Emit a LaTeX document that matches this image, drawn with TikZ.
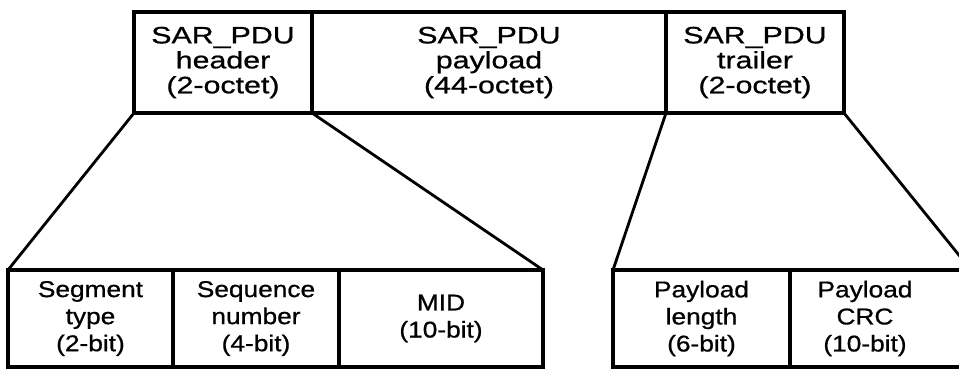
\documentclass[tikz,border=0pt]{standalone}
\usepackage{fontspec}
\newfontfamily\fieldfont{Liberation Sans}[FakeStretch=1.15, FakeBold=0.8]
\newfontfamily\pdufont{Liberation Sans}[FakeStretch=1.28, FakeBold=0.8]
\usetikzlibrary{positioning}

\begin{document}
\begin{tikzpicture}[x=0.2mm, y=-0.2mm, inner sep=0pt, outer sep=0pt, line width=2.2pt,
    field/.style={rectangle, draw, align=center},
    topfield/.style={field, minimum height=2.02cm, font=\pdufont\fontsize{13.5}{14.2}\selectfont},
    subfield/.style={field, minimum height=1.94cm, font=\fieldfont\fontsize{13}{15.4}\selectfont},
    fan/.style={line width=1.6pt}]
        \useasboundingbox (0,0) rectangle (959,368);
        %SAR_PDU
            \draw (223,62.5) node(hdr) [topfield, minimum width=3.56cm] {SAR\_PDU\\header\\(2-octet)}
                  (489,62.5) node(pay) [topfield, minimum width=7.08cm] {SAR\_PDU\\payload\\(44-octet)}
                  (755,62.5) node(trl) [topfield, minimum width=3.56cm] {SAR\_PDU\\trailer\\(2-octet)};

        %header fields
            \draw (90.5,318.5) node(seg) [subfield, minimum width=3.30cm] {Segment\\type\\(2-bit)}
                  (256,318.5) node(seq) [subfield, minimum width=3.32cm] {Sequence\\number\\(4-bit)}
                  (441,318.5) node(mid) [subfield, minimum width=4.08cm] {MID\\(10-bit)};

        %trailer fields
            \draw (701.5,318.5) node(len) [subfield, minimum width=3.54cm] {Payload\\length\\(6-bit)}
                  (880.5,318.5) node(crc) [subfield, minimum width=3.62cm,
                      label={[font=\fieldfont\fontsize{13}{15.4}\selectfont, align=center, xshift=-0.31cm]center:Payload\\CRC\\(10-bit)}] {};

            \draw[fan] (hdr.south west) to (seg.north west);
            \draw[fan] (hdr.south east) to (mid.north east);
            \draw[fan] (trl.south west) to (len.north west);
            \draw[fan] (trl.south east) to (crc.north east);
\end{tikzpicture}
\end{document}
